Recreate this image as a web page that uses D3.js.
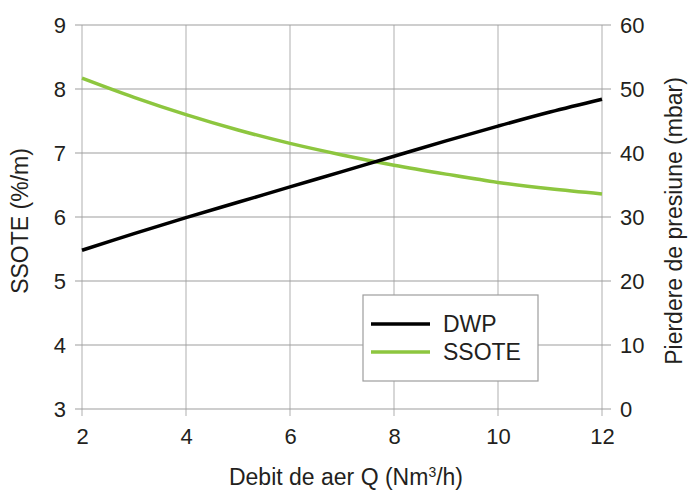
<!DOCTYPE html>
<html>
<head>
<meta charset="utf-8">
<script src="https://cdn.jsdelivr.net/npm/d3@7"></script>
<style>
  body { margin: 0; background: #fff; }
  text { font-family: "Liberation Sans", Arial, sans-serif; fill: #231f20; }
</style>
</head>
<body>
<svg id="chart" width="688" height="491"></svg>
<script>
// values
var flow = [2, 3, 4, 5, 6, 7, 8, 9, 10, 11, 12];
var ssote = [8.17, 7.87, 7.60, 7.36, 7.15, 6.97, 6.81, 6.67, 6.54, 6.44, 6.36];
var dwp = [24.8, 27.4, 29.9, 32.3, 34.7, 37.1, 39.5, 41.9, 44.2, 46.4, 48.4];
var xTicks = [2, 4, 6, 8, 10, 12];
var leftTicks = [3, 4, 5, 6, 7, 8, 9];
var rightTicks = [0, 10, 20, 30, 40, 50, 60];

var svg = d3.select("#chart"),
  margin = {top: 25, right: 86, bottom: 82, left: 82},
  width = +svg.attr("width") - margin.left - margin.right,
  height = +svg.attr("height") - margin.top - margin.bottom,
  g = svg.append("g").attr("transform", "translate(" + margin.left + "," + margin.top + ")");

var x = d3.scaleLinear().domain([2, 12]).range([0, width]);
var yL = d3.scaleLinear().domain([3, 9]).range([height, 0]);
var yR = d3.scaleLinear().domain([0, 60]).range([height, 0]);

// vertical grid, sticking out below the plot
g.append("g")
  .selectAll("line")
  .data(xTicks)
  .enter().append("line")
    .attr("x1", function(d) { return x(d); })
    .attr("x2", function(d) { return x(d); })
    .attr("y1", 0)
    .attr("y2", height + 7)
    .attr("stroke", "#bdbdbd")
    .attr("stroke-width", 1.2);

// horizontal grid, sticking out both sides
g.append("g")
  .selectAll("line")
  .data(leftTicks)
  .enter().append("line")
    .attr("x1", -7)
    .attr("x2", width + 9)
    .attr("y1", function(d) { return yL(d); })
    .attr("y2", function(d) { return yL(d); })
    .attr("stroke", "#9d9d9d")
    .attr("stroke-width", 1.2);

// axes (labels only, lines drawn by the grid)
var xAxis = d3.axisBottom(x).tickValues(xTicks).tickFormat(d3.format("d")).tickSize(0).tickPadding(19);
var xg = g.append("g").attr("transform", "translate(0," + height + ")").call(xAxis);

var yAxisL = d3.axisLeft(yL).tickValues(leftTicks).tickFormat(d3.format("d")).tickSize(0).tickPadding(16);
var ylg = g.append("g").call(yAxisL);

var yAxisR = d3.axisRight(yR).tickValues(rightTicks).tickFormat(d3.format("d")).tickSize(0).tickPadding(18);
var yrg = g.append("g").attr("transform", "translate(" + width + ",0)").call(yAxisR);

[xg, ylg, yrg].forEach(function(a) {
  a.select(".domain").remove();
  a.selectAll("text").attr("font-size", 22).attr("fill", "#231f20")
    .attr("font-family", "Liberation Sans, Arial, sans-serif");
});

// lines
var lineL = d3.line()
  .x(function(d, i) { return x(flow[i]); })
  .y(function(d) { return yL(d); })
  .curve(d3.curveCatmullRom);
var lineR = d3.line()
  .x(function(d, i) { return x(flow[i]); })
  .y(function(d) { return yR(d); })
  .curve(d3.curveCatmullRom);

g.append("path").datum(ssote)
  .attr("d", lineL).attr("fill", "none")
  .attr("stroke", "#8dc63f").attr("stroke-width", 3.5);
g.append("path").datum(dwp)
  .attr("d", lineR).attr("fill", "none")
  .attr("stroke", "#000").attr("stroke-width", 3.5);

// axis titles
svg.append("text")
  .attr("x", 346)
  .attr("y", 485)
  .attr("text-anchor", "middle")
  .attr("font-size", 23)
  .html('Debit de aer Q (Nm<tspan baseline-shift="super" font-size="14">3</tspan>/h)');

svg.append("text")
  .attr("transform", "translate(28,221) rotate(-90)")
  .attr("text-anchor", "middle")
  .attr("font-size", 23)
  .text("SSOTE (%/m)");

svg.append("text")
  .attr("transform", "translate(682,221) rotate(-90)")
  .attr("text-anchor", "middle")
  .attr("font-size", 23)
  .text("Pierdere de presiune (mbar)");

// legend
var legend = svg.append("g").attr("transform", "translate(363,295)");
legend.append("rect")
  .attr("width", 175).attr("height", 86)
  .attr("fill", "#fff").attr("stroke", "#9d9d9d").attr("stroke-width", 1.2);
var series = [{name: "DWP", color: "#000"}, {name: "SSOTE", color: "#8dc63f"}];
var items = legend.selectAll(".item").data(series).enter().append("g")
  .attr("transform", function(d, i) { return "translate(0," + (29 + i * 28) + ")"; });
items.append("line")
  .attr("x1", 8).attr("x2", 67)
  .attr("stroke", function(d) { return d.color; }).attr("stroke-width", 3.5);
items.append("text")
  .attr("x", 80).attr("y", 8)
  .attr("font-size", 23)
  .text(function(d) { return d.name; });
</script>
</body>
</html>
